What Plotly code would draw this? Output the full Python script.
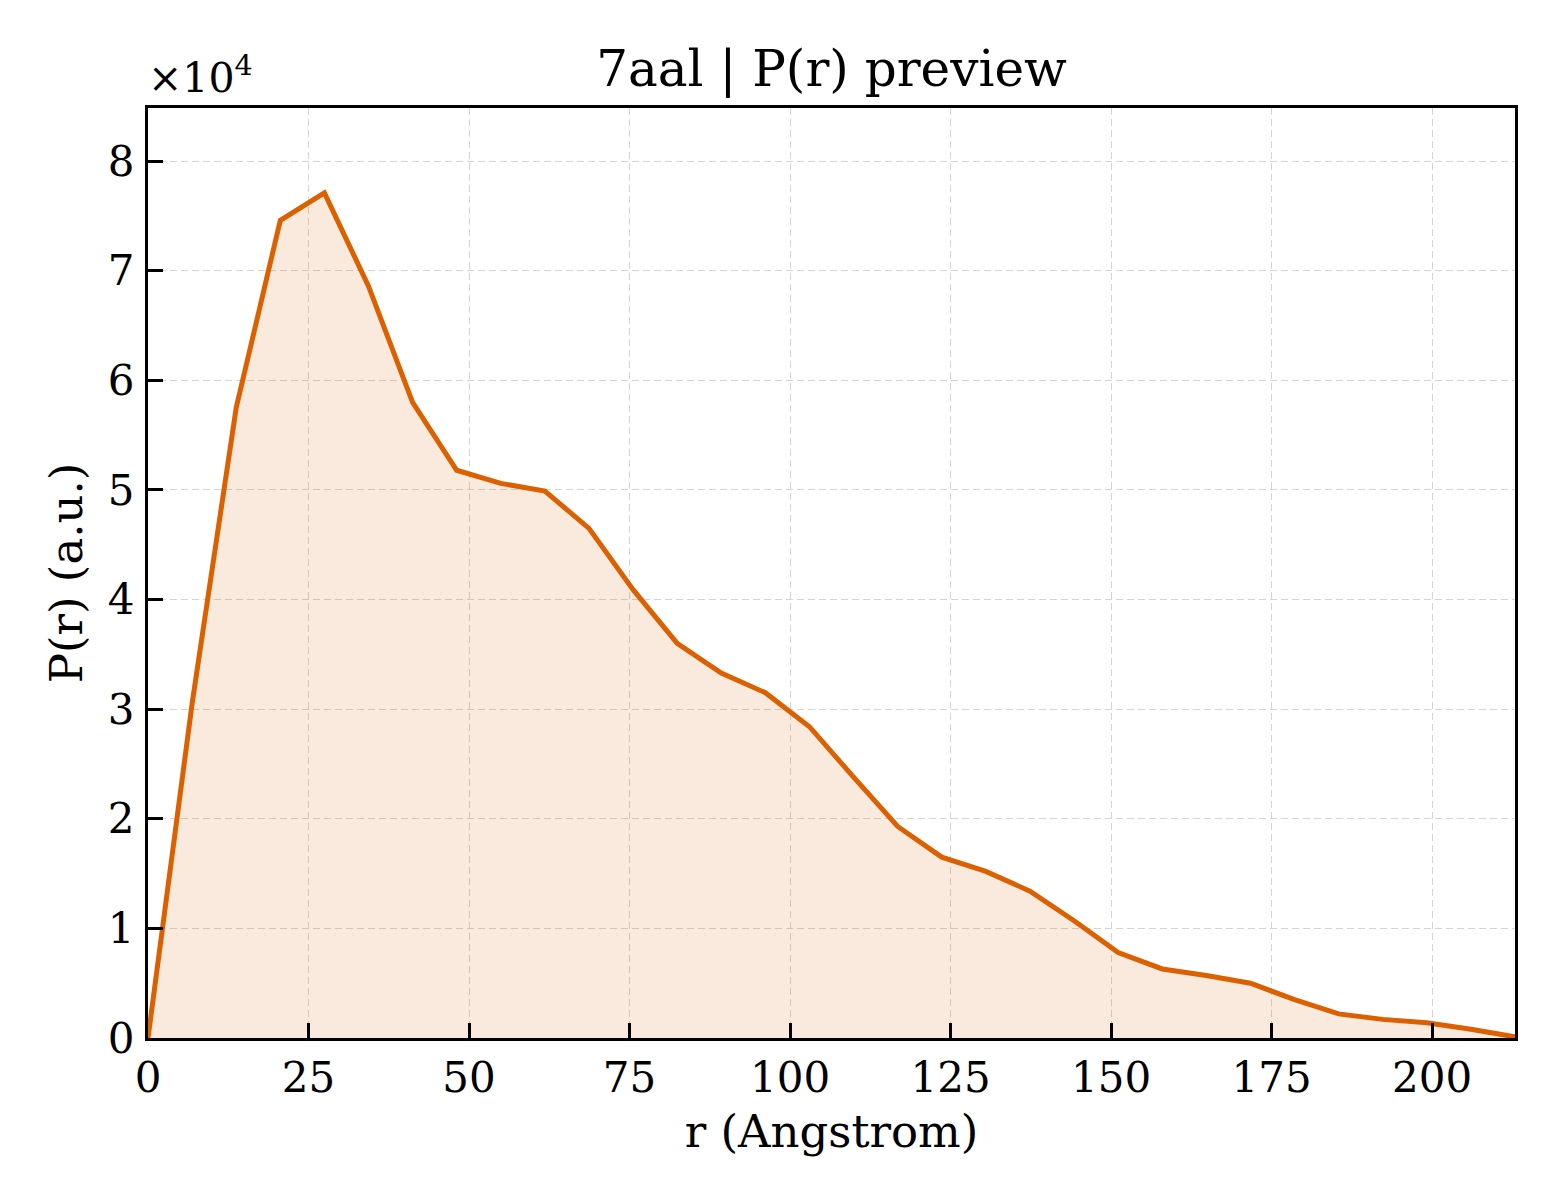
import plotly.graph_objects as go

# P(r) samples (r in Angstrom, P in units of 1e4)
r_step = 6.868
n_points = 32
r_values = [round(i * r_step, 3) for i in range(n_points)]
p_values_e4 = [0.0, 3.05, 5.75, 7.46, 7.71, 6.86, 5.80, 5.18, 5.06, 4.99,
               4.65, 4.09, 3.60, 3.33, 3.15, 2.84, 2.38, 1.93, 1.65, 1.52,
               1.34, 1.07, 0.78, 0.63, 0.57, 0.50, 0.35, 0.22, 0.17, 0.14,
               0.08, 0.01]
p_values = [v * 1e4 for v in p_values_e4]

x_ticks = [0, 25, 50, 75, 100, 125, 150, 175, 200]
y_ticks = [0, 10000, 20000, 30000, 40000, 50000, 60000, 70000, 80000]
y_ticktext = ["0", "1", "2", "3", "4", "5", "6", "7", "8"]

title_text = "7aal | P(r) preview"
x_label = "r (Angstrom)"
y_label = "P(r) (a.u.)"

LINE = "#dc6000"
FILL = "rgba(220,96,0,0.13)"
FONT = "DejaVu Serif"

fig = go.Figure()
fig.add_trace(go.Scatter(
    x=r_values, y=p_values, mode="lines",
    line=dict(color=LINE, width=5),
    fill="tozeroy", fillcolor=FILL,
    showlegend=False,
))

axis_common = dict(
    showline=True, linecolor="black", linewidth=3, mirror=True,
    ticks="inside", ticklen=15, tickwidth=2.5, tickcolor="black",
    showgrid=True, gridcolor="#d4d4d4", gridwidth=1.4, griddash="7px,4px",
    zeroline=False,
    tickfont=dict(family=FONT, size=42, color="black"),
)

fig.update_xaxes(
    range=[0, 212.9], tickvals=x_ticks,
    title=dict(text=x_label, font=dict(family=FONT, size=45, color="black"), standoff=15),
    ticklabelstandoff=1,
    **axis_common,
)
fig.update_yaxes(
    range=[0, 84850], tickvals=y_ticks, ticktext=y_ticktext,
    title=dict(text=y_label, font=dict(family=FONT, size=45, color="black"), standoff=12),
    ticklabelstandoff=2,
    **axis_common,
)

fig.add_annotation(
    text="×10<sup>4</sup>", xref="paper", yref="paper", x=0, y=1.0,
    xanchor="left", yanchor="bottom", showarrow=False, yshift=4, xshift=-2,
    font=dict(family=FONT, size=41, color="black"),
)

# page body adds an ~8px offset; compensate in margins
fig.update_layout(
    width=1560, height=1200,
    margin=dict(l=140, r=53, t=100, b=170),
    paper_bgcolor="white", plot_bgcolor="white",
    title=dict(text=title_text, x=(831.5 - 8) / 1560, xanchor="center",
               y=1 - 60 / 1200, yanchor="middle",
               font=dict(family=FONT, size=50, color="black")),
    font=dict(family=FONT, color="black"),
)

fig.write_html("out.html")
